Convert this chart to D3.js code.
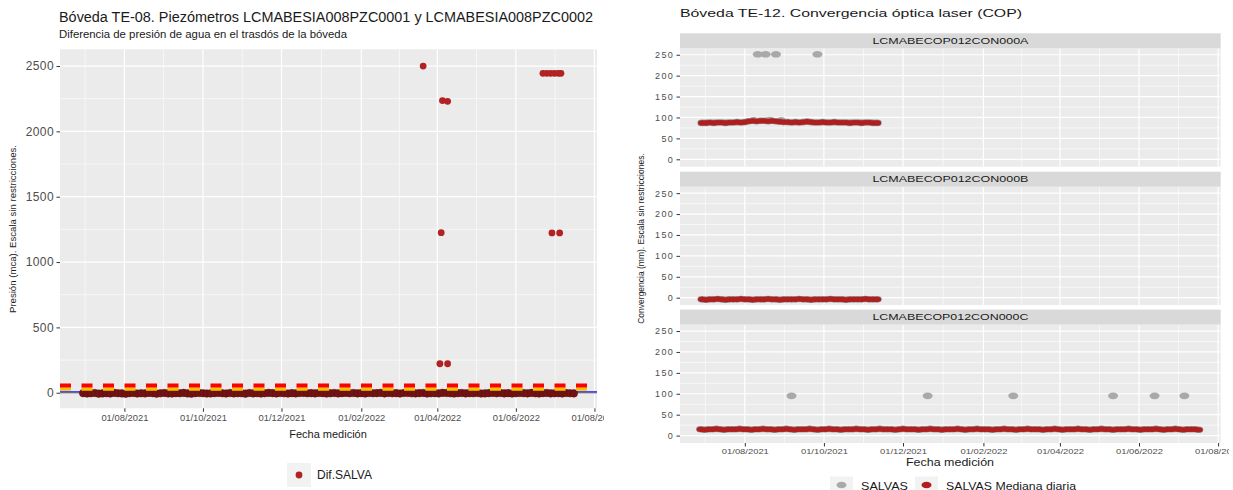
<!DOCTYPE html>
<html>
<head>
<meta charset="utf-8">
<script src="https://cdn.jsdelivr.net/npm/d3@7"></script>
<style>
body { margin: 0; background: #fff; }
svg text { font-family: "Liberation Sans", Arial, sans-serif; }
</style>
</head>
<body>
<svg id="chart" width="1233" height="490"></svg>
<script>
// ---- shared time axis ----
var dateDomain = ["2021-06-12", "2022-08-03"];
var dateTicks = ["2021-08-01", "2021-10-01", "2021-12-01", "2022-02-01", "2022-04-01", "2022-06-01", "2022-08-01"];

// ---- left chart: piezometers ----
var pzcTitle = "Bóveda TE-08. Piezómetros LCMABESIA008PZC0001 y LCMABESIA008PZC0002";
var pzcSubtitle = "Diferencia de presión de agua en el trasdós de la bóveda";
var pzcYLabel = "Presión (mca). Escala sin restricciones.";
var pzcYTicks = [0, 500, 1000, 1500, 2000, 2500];
var pzcYDomain = [-119, 2628];
var pzcSeriesName = "Dif.SALVA";
var pzcBaseStart = "2021-06-30";
var pzcBaseStepDays = 3;
var pzcBaseValues = [
    -3,-6,-4,-2,-7,-5,-3,-6,-1,-4,-5,-8,-3,-2,-6,-4,-5,-1,-3,-7,
    -4,-2,-5,-6,-3,-4,-1,-5,-7,-3,-2,-4,-6,-5,-3,-1,-4,-6,-2,-5,
    -3,-4,-7,-2,-5,-3,-6,-4,-1,-3,-5,-2,-4,-6,-3,-5,-2,-1,-4,-3,
    -5,-2,-3,-6,-4,-2,-5,-3,-1,-4,-2,-5,-3,-6,-2,-4,-3,-1,-5,-2,
    -4,-3,-6,-2,-1,-4,-5,-3,-2,-6,-4,-3,-5,-1,-2,-4,-6,-3,-2,-5,
    -3,-4,-2,-6,-5,-3,-1,-4,-2,-5,-3,-6,-4,-2,-3,-5,-1,-4,-6,-3,
    -2,-5,-4,-3,-6,-2,-4,-5
];
var pzcPeakDates = ["2022-03-21", "2022-04-05", "2022-04-09", "2022-04-04", "2022-04-03", "2022-04-09",
    "2022-06-22", "2022-06-25", "2022-06-28", "2022-07-01", "2022-07-04", "2022-07-06", "2022-06-29", "2022-07-05"];
var pzcPeakValues = [2500, 2236, 2230, 1225, 222, 222, 2444, 2444, 2444, 2444, 2444, 2444, 1223, 1223];
var pzcRedLimit = 55, pzcYellowLimit = 28, pzcBlueLevel = 8, pzcZeroLevel = 0;

// ---- right chart: optical convergence ----
var copTitle = "Bóveda TE-12. Convergencia óptica laser (COP)";
var copYLabel = "Convergencia (mm). Escala sin restricciones.";
var copPanels = ["LCMABECOP012CON000A", "LCMABECOP012CON000B", "LCMABECOP012CON000C"];
var copYTicks = [0, 50, 100, 150, 200, 250];
var copYDomain = [-17.7, 265.4];
var copLegend = ["SALVAS", "SALVAS Mediana diaria"];
var copStepDays = 3;
var copMedianStart = ["2021-06-29", "2021-06-29", "2021-06-28"];
var copMedianA = [87,87,88,87,88,88,87,88,88,89,88,89, 91,92,91,92,92,91,92,91,90,
    89,89,88,89,88,89,90,89,88,88,89,88,88,89,88,88,88,87,88,88,87,88,88,87,87];
var copMedianB = [
    -4,-5,-4,-4,-3,-4,-5,-4,-4,-4,-3,-4,-4,-5,-4,-4,-4,-3,-4,-4,
    -5,-4,-4,-4,-4,-3,-4,-4,-5,-4,-4,-4,-4,-3,-4,-4,-4,-5,-4,-4,
    -4,-4,-3,-4,-4,-4];
var copMedianC = [
    15,14,15,15,16,15,14,15,15,15,16,15,15,14,15,15,16,15,15,14,
    15,15,16,15,14,15,15,15,16,15,14,15,15,16,15,15,14,15,15,15,
    16,15,15,14,15,15,16,15,15,15,14,15,16,15,15,15,14,15,15,16,
    15,15,14,15,15,15,16,15,14,15,15,16,15,15,15,14,15,15,16,15,
    15,14,15,15,16,15,15,15,14,15,15,16,15,14,15,15,15,16,15,15,
    14,15,15,16,15,15,14,15,15,15,16,15,15,14,15,15,15,16,15,14,
    15,15,16,15,14,15,15,15,14];
var copSalvasDatesA = ["2021-08-11", "2021-08-17", "2021-08-25", "2021-09-26", "2021-08-08", "2021-08-20", "2021-08-29"];
var copSalvasValuesA = [251, 251, 251, 251, 93, 94, 93];
var copSalvasDatesB = [];
var copSalvasValuesB = [];
var copSalvasDatesC = ["2021-09-06", "2021-12-20", "2022-02-24", "2022-05-12", "2022-06-13", "2022-07-06"];
var copSalvasValuesC = [95, 95, 95, 95, 95, 95];

// ---- helpers ----
var parseDate = d3.timeParse("%Y-%m-%d");
var fmtDate = d3.timeFormat("%d/%m/%Y");
var svg = d3.select("#chart");

function stepSeries(start, stepDays, values) {
    var t0 = parseDate(start);
    return values.map((v, i) => ({date: d3.timeDay.offset(t0, i * stepDays), value: v}));
}

function pairSeries(dates, values) {
    return dates.map((d, i) => ({date: parseDate(d), value: values[i]}));
}

function midpoints(arr, before, after) {
    var ext = [before].concat(arr, [after]);
    var out = [];
    for (var i = 0; i < ext.length - 1; i++) out.push((+ext[i] + +ext[i + 1]) / 2);
    return out;
}

var tickDates = dateTicks.map(parseDate);
var minorDates = midpoints(tickDates, d3.timeMonth.offset(tickDates[0], -2),
    d3.timeMonth.offset(tickDates[tickDates.length - 1], 2)).map(d => new Date(d));

// ggplot-like grey panel with white grid
function drawPanel(g, x, y, yTicks, yStep) {
    var x0 = x.range()[0], x1 = x.range()[1], y0 = y.range()[1], y1 = y.range()[0];
    var minorY = midpoints(yTicks, yTicks[0] - yStep, yTicks[yTicks.length - 1] + yStep)
        .filter(v => v > y.domain()[0] && v < y.domain()[1]);
    var minorX = minorDates.filter(d => d > x.domain()[0] && d < x.domain()[1]);
    var majorX = tickDates.filter(d => d > x.domain()[0] && d < x.domain()[1]);

    g.append("rect").attr("x", x0).attr("y", y0).attr("width", x1 - x0).attr("height", y1 - y0)
        .attr("fill", "#EBEBEB");
    g.selectAll(".minorY").data(minorY).enter().append("line")
        .attr("x1", x0).attr("x2", x1).attr("y1", d => y(d)).attr("y2", d => y(d))
        .attr("stroke", "#fff").attr("stroke-width", 0.6);
    g.selectAll(".minorX").data(minorX).enter().append("line")
        .attr("x1", d => x(d)).attr("x2", d => x(d)).attr("y1", y0).attr("y2", y1)
        .attr("stroke", "#fff").attr("stroke-width", 0.6);
    g.selectAll(".majorY").data(yTicks).enter().append("line")
        .attr("x1", x0).attr("x2", x1).attr("y1", d => y(d)).attr("y2", d => y(d))
        .attr("stroke", "#fff").attr("stroke-width", 1.2);
    g.selectAll(".majorX").data(majorX).enter().append("line")
        .attr("x1", d => x(d)).attr("x2", d => x(d)).attr("y1", y0).attr("y2", y1)
        .attr("stroke", "#fff").attr("stroke-width", 1.2);
}

function styleAxis(sel, fontSize, textLen) {
    sel.select(".domain").remove();
    sel.selectAll(".tick line").attr("stroke", "#333");
    sel.selectAll(".tick text").attr("fill", "#4D4D4D")
        .style("font-size", fontSize + "px").attr("font-family", null);
    if (textLen) sel.selectAll(".tick text").attr("textLength", textLen).attr("lengthAdjust", "spacingAndGlyphs");
}

// ================= LEFT CHART =================
svg.append("defs").append("clipPath").attr("id", "clipLeft")
    .append("rect").attr("x", 0).attr("y", 0).attr("width", 604).attr("height", 490);
svg.select("defs").append("clipPath").attr("id", "clipRight")
    .append("rect").attr("x", 610).attr("y", 0).attr("width", 619).attr("height", 490);

var left = svg.append("g").attr("clip-path", "url(#clipLeft)");
var xL = d3.scaleTime().domain(dateDomain.map(parseDate)).range([60, 597]);
var yL = d3.scaleLinear().domain(pzcYDomain).range([408.3, 49.3]);

drawPanel(left, xL, yL, pzcYTicks, 500);

left.append("text").attr("x", 59).attr("y", 22).text(pzcTitle)
    .style("font-size", "14px").attr("fill", "#1a1a1a")
    .attr("textLength", 534).attr("lengthAdjust", "spacingAndGlyphs");
left.append("text").attr("x", 59).attr("y", 38).text(pzcSubtitle)
    .style("font-size", "10px").attr("fill", "#1a1a1a")
    .attr("textLength", 288).attr("lengthAdjust", "spacingAndGlyphs");

// reference lines below the points
left.append("line").attr("x1", 60).attr("x2", 597)
    .attr("y1", yL(pzcZeroLevel)).attr("y2", yL(pzcZeroLevel))
    .attr("stroke", "#444").attr("stroke-width", 1.2);
left.append("line").attr("x1", 60).attr("x2", 597)
    .attr("y1", yL(pzcBlueLevel)).attr("y2", yL(pzcBlueLevel))
    .attr("stroke", "#4a4aff").attr("stroke-width", 1.2);

var pzcBase = stepSeries(pzcBaseStart, pzcBaseStepDays, pzcBaseValues);
left.selectAll(".basePt").data(pzcBase).enter().append("circle")
    .attr("cx", d => xL(d.date)).attr("cy", d => yL(d.value)).attr("r", 3.8)
    .attr("fill", "#731212").attr("stroke", "#5e0e0e").attr("stroke-width", 0.5);

left.append("line").attr("x1", 60).attr("x2", 597)
    .attr("y1", yL(pzcYellowLimit)).attr("y2", yL(pzcYellowLimit))
    .attr("stroke", "#F2C200").attr("stroke-width", 3.5).attr("stroke-dasharray", "11,10.5");
left.append("line").attr("x1", 60).attr("x2", 597)
    .attr("y1", yL(pzcRedLimit)).attr("y2", yL(pzcRedLimit))
    .attr("stroke", "#FF0000").attr("stroke-width", 4).attr("stroke-dasharray", "11,10.5");

var pzcPeaks = pairSeries(pzcPeakDates, pzcPeakValues);
left.selectAll(".peakPt").data(pzcPeaks).enter().append("circle")
    .attr("cx", d => xL(d.date)).attr("cy", d => yL(d.value)).attr("r", 3.4)
    .attr("fill", "#B22222");

var gxL = left.append("g").attr("transform", "translate(0,408.3)")
    .call(d3.axisBottom(xL).tickValues(tickDates).tickFormat(fmtDate).tickSize(3.5).tickPadding(3.5));
styleAxis(gxL, 8.5, 47);
var gyL = left.append("g").attr("transform", "translate(60,0)")
    .call(d3.axisLeft(yL).tickValues(pzcYTicks).tickFormat(d3.format("d")).tickSize(3.5).tickPadding(2.5));
styleAxis(gyL, 12);
gyL.selectAll(".tick text").attr("letter-spacing", 0.4);

left.append("text").attr("x", 328).attr("y", 438).attr("text-anchor", "middle")
    .text("Fecha medición").style("font-size", "11px").attr("fill", "#1a1a1a");
left.append("text").attr("transform", "translate(16,229) rotate(-90)").attr("text-anchor", "middle")
    .text(pzcYLabel).style("font-size", "8.5px").attr("fill", "#1a1a1a")
    .attr("textLength", 168).attr("lengthAdjust", "spacingAndGlyphs");

// legend
var legL = left.append("g");
legL.append("rect").attr("x", 287).attr("y", 463).attr("width", 24).attr("height", 24).attr("fill", "#F2F2F2");
legL.append("circle").attr("cx", 299).attr("cy", 475).attr("r", 3.4).attr("fill", "#B22222");
legL.append("text").attr("x", 317).attr("y", 479.3).text(pzcSeriesName)
    .style("font-size", "12px").attr("fill", "#1a1a1a");

// ================= RIGHT CHART =================
var right = svg.append("g").attr("clip-path", "url(#clipRight)");
var xR = d3.scaleTime().domain(dateDomain.map(parseDate)).range([680, 1220.7]);
var panelTops = [48.3, 186.7, 324.6];
var panelH = 118.4, stripH = 15;
var medians = [copMedianA, copMedianB, copMedianC];
var salvas = [[copSalvasDatesA, copSalvasValuesA], [copSalvasDatesB, copSalvasValuesB], [copSalvasDatesC, copSalvasValuesC]];

right.append("text").attr("x", 680).attr("y", 17).text(copTitle)
    .style("font-size", "11px").attr("fill", "#1a1a1a")
    .attr("textLength", 342).attr("lengthAdjust", "spacingAndGlyphs");

copPanels.forEach((name, i) => {
    var top = panelTops[i];
    var yR = d3.scaleLinear().domain(copYDomain).range([top + panelH, top]);
    var g = right.append("g");
    drawPanel(g, xR, yR, copYTicks, 50);

    // facet strip
    g.append("rect").attr("x", 680).attr("y", top - stripH).attr("width", 540.7).attr("height", stripH)
        .attr("fill", "#D9D9D9");
    g.append("text").attr("x", 950.4).attr("y", top - stripH / 2 + 3).attr("text-anchor", "middle")
        .text(name).style("font-size", "8.5px").attr("fill", "#1a1a1a")
        .attr("textLength", 156).attr("lengthAdjust", "spacingAndGlyphs");

    var raw = pairSeries(salvas[i][0], salvas[i][1]);
    g.selectAll(".rawPt").data(raw).enter().append("ellipse")
        .attr("cx", d => xR(d.date)).attr("cy", d => yR(d.value)).attr("rx", 5).attr("ry", 3.3)
        .attr("fill", "#A9A9A9");

    // daily median: grey halo underneath, red dots on top
    var med = stepSeries(copMedianStart[i], copStepDays, medians[i]);
    g.selectAll(".medHalo").data(med).enter().append("ellipse")
        .attr("cx", d => xR(d.date)).attr("cy", d => yR(d.value)).attr("rx", 4.6).attr("ry", 3.3)
        .attr("fill", "#8e8e8e");
    g.selectAll(".medPt").data(med).enter().append("ellipse")
        .attr("cx", d => xR(d.date)).attr("cy", d => yR(d.value)).attr("rx", 4).attr("ry", 2.6)
        .attr("fill", "#B01E1E");

    var gy = g.append("g").attr("transform", "translate(680,0)")
        .call(d3.axisLeft(yR).tickValues(copYTicks).tickSize(3.5).tickPadding(2.5));
    styleAxis(gy, 9);
    gy.selectAll(".tick text").attr("letter-spacing", 1.3);
});

var gxR = right.append("g").attr("transform", "translate(0," + (panelTops[2] + panelH) + ")")
    .call(d3.axisBottom(xR).tickValues(tickDates).tickFormat(fmtDate).tickSize(3.5).tickPadding(1.5));
styleAxis(gxR, 8, 47);

right.append("text").attr("x", 950).attr("y", 466).attr("text-anchor", "middle")
    .text("Fecha medición").style("font-size", "10.5px").attr("fill", "#1a1a1a")
    .attr("textLength", 88).attr("lengthAdjust", "spacingAndGlyphs");
right.append("text").attr("transform", "translate(644,238.5) rotate(-90)").attr("text-anchor", "middle")
    .text(copYLabel).style("font-size", "8.5px").attr("fill", "#1a1a1a");

// legend
var legR = right.append("g");
legR.append("rect").attr("x", 830).attr("y", 476.5).attr("width", 23).attr("height", 17).attr("fill", "#F2F2F2");
legR.append("ellipse").attr("cx", 841.5).attr("cy", 485).attr("rx", 5).attr("ry", 3.3).attr("fill", "#A9A9A9");
legR.append("text").attr("x", 861).attr("y", 489.5).text(copLegend[0])
    .style("font-size", "11px").attr("fill", "#1a1a1a")
    .attr("textLength", 47).attr("lengthAdjust", "spacingAndGlyphs");
legR.append("rect").attr("x", 915).attr("y", 476.5).attr("width", 23).attr("height", 17).attr("fill", "#F2F2F2");
legR.append("ellipse").attr("cx", 926.5).attr("cy", 485).attr("rx", 5).attr("ry", 3.3).attr("fill", "#B01E1E");
legR.append("text").attr("x", 946).attr("y", 489.5).text(copLegend[1])
    .style("font-size", "11px").attr("fill", "#1a1a1a")
    .attr("textLength", 130).attr("lengthAdjust", "spacingAndGlyphs");
</script>
</body>
</html>
